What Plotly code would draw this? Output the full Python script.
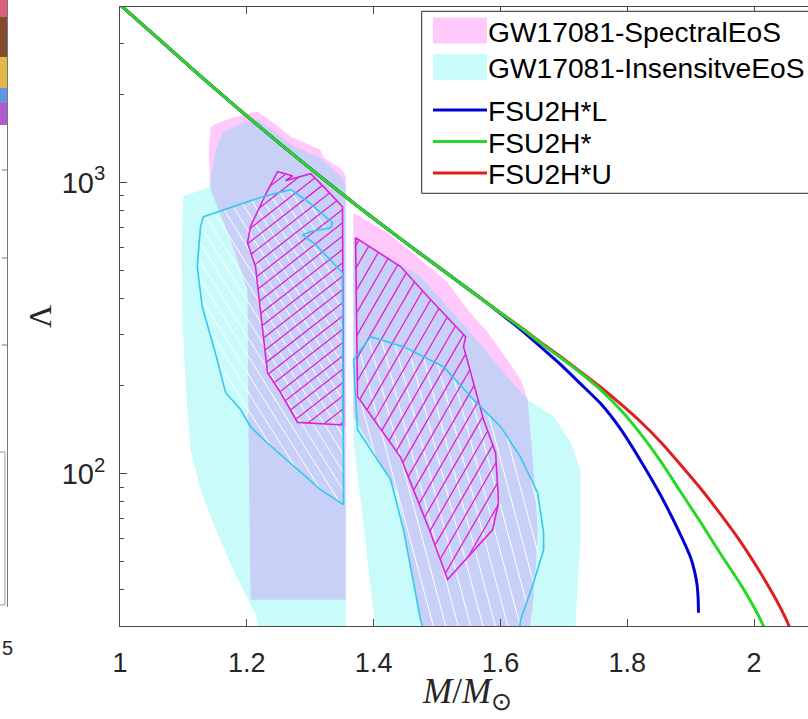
import numpy as np
import plotly.graph_objects as go

# ---------------- axes ----------------
W, H = 808, 719
ML, MR, MT, MB = 120, 0, 7, 93
X_RANGE = [1.0, 2.085]
Y_RANGE = [30.0, 4000.0]
PW, PH = W - ML - MR, H - MT - MB
PX_PER_M = PW / (X_RANGE[1] - X_RANGE[0])
PX_PER_DEC = PH / (np.log10(Y_RANGE[1]) - np.log10(Y_RANGE[0]))

x_ticks = [1.0, 1.2, 1.4, 1.6, 1.8, 2.0]
x_ticktext = ["1", "1.2", "1.4", "1.6", "1.8", "2"]
y_ticks = [100, 1000]
y_ticktext = ["10<sup>2</sup>", "10<sup>3</sup>"]
y_minor = [40, 50, 60, 70, 80, 90, 200, 300, 400, 500, 600, 700, 800, 900, 2000, 3000, 4000]

# ---------------- EoS curves (Lambda vs M) ----------------
fsu2h_m = [1.000, 1.064, 1.127, 1.190, 1.253, 1.316, 1.379, 1.442, 1.506, 1.569, 1.600, 1.632,
           1.663, 1.695, 1.726, 1.758, 1.789, 1.821, 1.853, 1.884, 1.916, 1.947, 1.979, 2.002, 2.015, 2.023]
fsu2h_lam = [4074, 3065, 2315, 1763, 1353, 1046, 815, 641, 505, 400, 356, 317,
             281, 250, 222, 194, 166, 137, 110, 86.7, 67.9, 53.1, 41.6, 34.1, 29.9, 26.9]

fsu2h_l_m = [1.000, 1.064, 1.127, 1.190, 1.253, 1.316, 1.379, 1.442, 1.506, 1.569, 1.600, 1.632,
             1.663, 1.695, 1.726, 1.758, 1.789, 1.821, 1.853, 1.884, 1.900, 1.906, 1.910, 1.9117, 1.9123]
fsu2h_l_lam = [4074, 3065, 2315, 1763, 1353, 1046, 815, 641, 505, 400, 354.8, 312.2,
               272.9, 236.7, 203.7, 174, 142.7, 110.8, 84.0, 61.7, 51.5, 46.3, 41.6, 37.5, 33.3]

fsu2h_u_m = [1.000, 1.064, 1.127, 1.190, 1.253, 1.316, 1.379, 1.442, 1.506, 1.569, 1.600, 1.632,
             1.663, 1.695, 1.726, 1.758, 1.789, 1.821, 1.853, 1.884, 1.916, 1.947, 1.979, 2.010,
             2.034, 2.050, 2.056, 2.061]
fsu2h_u_lam = [4074, 3065, 2315, 1763, 1353, 1046, 815, 641, 505, 400, 357, 318,
               282.8, 252, 224, 198, 174, 150.8, 128.3, 107.4, 88.8, 72.6, 58.2, 45.7,
               37.2, 31.8, 29.6, 26.9]

# ---------------- GW170817 credible regions ----------------
# Spectral EoS, 90% (lighter star m2 and heavier star m1)
spec90_m2_m = [1.143, 1.148, 1.177, 1.217, 1.242, 1.269, 1.316, 1.321, 1.351, 1.356, 1.356, 1.206, 1.203, 1.201, 1.174, 1.143, 1.140]
spec90_m2_lam = [1541, 1578, 1668, 1749, 1603, 1436, 1295, 1215, 1106, 1046, 36.9, 36.9, 121, 428, 636, 944, 1295]
spec90_m1_m = [1.368, 1.422, 1.474, 1.517, 1.548, 1.580, 1.611, 1.632, 1.643, 1.652, 1.659, 1.652, 1.644, 1.482, 1.474, 1.438, 1.368]
spec90_m1_lam = [787, 672, 543, 453, 366, 305, 246, 210, 179.5, 105.7, 62.7, 36.9, 26.9, 26.9, 31.5, 86, 157]

# EoS-insensitive, 90%
ins90_m2_m = [1.356, 1.351, 1.316, 1.269, 1.242, 1.217, 1.190, 1.162, 1.151, 1.140, 1.100, 1.097, 1.099, 1.105, 1.111, 1.127, 1.151, 1.182, 1.214, 1.225, 1.356]
ins90_m2_lam = [982, 1038, 1215, 1347, 1505, 1641, 1591, 1493, 1295, 959, 900, 587, 312, 179.5, 121, 88.1, 64.2, 45, 32.8, 26.9, 26.9]
ins90_m1_m = [1.368, 1.474, 1.553, 1.611, 1.643, 1.684, 1.711, 1.726, 1.726, 1.720, 1.717, 1.405, 1.398, 1.383, 1.368]
ins90_m1_lam = [651, 475, 305, 215, 179.5, 157, 128, 103, 59.3, 36.9, 26.9, 26.9, 36.9, 69.5, 131]

# Spectral EoS, 50%
spec50_m2_m = [1.2295, 1.2484, 1.2721, 1.261, 1.3005, 1.321, 1.3509, 1.3525, 1.280, 1.2532, 1.2326, 1.2216, 1.2137, 1.2011, 1.2058]
spec50_m2_lam = [907, 1088, 1054, 1013, 1071, 967, 825, 147, 150, 190, 222, 357, 514, 621, 705]
spec50_m1_m = [1.3715, 1.4424, 1.4897, 1.545, 1.5418, 1.5734, 1.5923, 1.597, 1.5875, 1.5166, 1.4897, 1.4424, 1.3746]
spec50_m1_lam = [646, 514, 396, 295, 273, 153, 118, 79.5, 64.2, 43.3, 62.7, 114, 184]

# EoS-insensitive, 50%
ins50_m2_m = [1.1317, 1.2248, 1.2689, 1.2926, 1.3352, 1.332, 1.3005, 1.2879, 1.3084, 1.3509, 1.3525, 1.3162, 1.2263, 1.2058, 1.1901, 1.1664, 1.1533, 1.1297, 1.1218, 1.127]
ins50_m2_lam = [762, 893, 944, 872, 727, 699, 677, 661, 611, 490, 78.3, 88.1, 131, 145, 166, 190, 246, 374, 514, 705]
ins50_m1_m = [1.3951, 1.4472, 1.5102, 1.5576, 1.6002, 1.6317, 1.6585, 1.668, 1.668, 1.6522, 1.6317, 1.6285, 1.4834, 1.474, 1.4472, 1.4267, 1.3746, 1.3683]
ins50_m1_lam = [295, 273, 233, 179.5, 145, 114, 86, 62.7, 54.8, 42.2, 31.5, 26.9, 26.9, 31.5, 64.2, 95.4, 141.6, 246]

# ---------------- styles ----------------
PINK = "rgba(255,0,240,0.21)"
CYAN = "rgba(0,235,235,0.21)"
MAGENTA = "rgb(224,32,212)"
CYAN_LINE = "rgb(50,200,240)"
BLUE, GREEN, RED = "rgb(0,0,210)", "rgb(40,215,40)", "rgb(225,30,30)"
AXIS_COLOR = "#4a4a4a"
TEXT_COLOR = "#262626"
SANS = "Liberation Sans, Arial, sans-serif"
SERIF = "Liberation Serif, Times New Roman, serif"


def hatch(ms, lams, angle_deg, spacing, phase=0.5):
    """Parallel hatch segments clipped to a polygon; angle and spacing in screen pixels."""
    th = np.radians(angle_deg)
    c, s = np.cos(th), np.sin(th)
    u = (np.asarray(ms, float) - X_RANGE[0]) * PX_PER_M
    v = np.log10(np.asarray(lams, float)) * PX_PER_DEC
    a = u * c + v * s
    b = -u * s + v * c
    n = len(a)
    xs, ys = [], []
    start = (np.floor(b.min() / spacing) + phase) * spacing
    for bb in np.arange(start, b.max(), spacing):
        hits = []
        for i in range(n):
            j = (i + 1) % n
            b1, b2 = b[i], b[j]
            if (b1 <= bb < b2) or (b2 <= bb < b1):
                t = (bb - b1) / (b2 - b1)
                hits.append(a[i] + t * (a[j] - a[i]))
        hits.sort()
        for k in range(0, len(hits) - 1, 2):
            for aa in (hits[k], hits[k + 1]):
                uu = aa * c - bb * s
                vv = aa * s + bb * c
                xs.append(X_RANGE[0] + uu / PX_PER_M)
                ys.append(10 ** (vv / PX_PER_DEC))
            xs.append(None)
            ys.append(None)
    return xs, ys


def closed(xs, ys):
    return list(xs) + [xs[0]], list(ys) + [ys[0]]


fig = go.Figure()

# 90% regions
for mm, ll in [(spec90_m2_m, spec90_m2_lam), (spec90_m1_m, spec90_m1_lam)]:
    fig.add_trace(go.Scatter(x=mm, y=ll, fill="toself", fillcolor=PINK, mode="lines",
                             line=dict(width=0), hoverinfo="skip", showlegend=False))
for mm, ll in [(ins90_m2_m, ins90_m2_lam), (ins90_m1_m, ins90_m1_lam)]:
    fig.add_trace(go.Scatter(x=mm, y=ll, fill="toself", fillcolor=CYAN, mode="lines",
                             line=dict(width=0), hoverinfo="skip", showlegend=False))

# white hatching of the EoS-insensitive 50% regions
for mm, ll, ang, sp in [(ins50_m2_m, ins50_m2_lam, 122, 9.5), (ins50_m1_m, ins50_m1_lam, 105, 12)]:
    hx, hy = hatch(mm, ll, ang, sp)
    fig.add_trace(go.Scatter(x=hx, y=hy, mode="lines", line=dict(color="white", width=1),
                             hoverinfo="skip", showlegend=False))

# magenta hatching of the spectral 50% regions
for mm, ll, ang, sp in [(spec50_m2_m, spec50_m2_lam, 38, 10.5), (spec50_m1_m, spec50_m1_lam, 60, 11.5)]:
    hx, hy = hatch(mm, ll, ang, sp)
    fig.add_trace(go.Scatter(x=hx, y=hy, mode="lines", line=dict(color=MAGENTA, width=1.3),
                             hoverinfo="skip", showlegend=False))

# 50% outlines
for mm, ll in [(spec50_m2_m, spec50_m2_lam), (spec50_m1_m, spec50_m1_lam)]:
    cx, cy = closed(mm, ll)
    fig.add_trace(go.Scatter(x=cx, y=cy, mode="lines", line=dict(color=MAGENTA, width=1.6),
                             hoverinfo="skip", showlegend=False))
for mm, ll in [(ins50_m2_m, ins50_m2_lam), (ins50_m1_m, ins50_m1_lam)]:
    cx, cy = closed(mm, ll)
    fig.add_trace(go.Scatter(x=cx, y=cy, mode="lines", line=dict(color=CYAN_LINE, width=1.6),
                             hoverinfo="skip", showlegend=False))

# EoS curves
for mm, ll, col, name in [(fsu2h_u_m, fsu2h_u_lam, RED, "FSU2H*U"),
                          (fsu2h_l_m, fsu2h_l_lam, BLUE, "FSU2H*L"),
                          (fsu2h_m, fsu2h_lam, GREEN, "FSU2H*")]:
    fig.add_trace(go.Scatter(x=mm, y=ll, mode="lines", name=name,
                             line=dict(color=col, width=3, shape="spline", smoothing=0.6),
                             showlegend=False))


# ---------------- pixel-based paper coordinates ----------------
def px(xp):
    return (xp - ML) / PW


def py(yp):
    return 1 - (yp - MT) / PH


# legend box
shapes = [dict(type="rect", xref="paper", yref="paper", x0=px(421.7), x1=px(840), y0=py(193.3), y1=py(11.3),
               line=dict(color=TEXT_COLOR, width=1), fillcolor="white", layer="above")]
legend_rows = [
    ("GW17081-SpectralEoS", "patch", PINK, 30.5),
    ("GW17081-InsensitveEoS", "patch", CYAN, 67.0),
    ("FSU2H*L", "line", BLUE, 110.0),
    ("FSU2H*", "line", GREEN, 141.5),
    ("FSU2H*U", "line", RED, 173.0),
]
annotations = []
for label, kind, col, yc in legend_rows:
    if kind == "patch":
        shapes.append(dict(type="rect", xref="paper", yref="paper", x0=px(433), x1=px(487),
                           y0=py(yc + 13), y1=py(yc - 13), line=dict(width=0), fillcolor=col, layer="above"))
    else:
        shapes.append(dict(type="line", xref="paper", yref="paper", x0=px(433), x1=px(487),
                           y0=py(yc), y1=py(yc), line=dict(color=col, width=3), layer="above"))
    annotations.append(dict(xref="paper", yref="paper", x=px(486), y=py(yc + 1), text=label, showarrow=False,
                            xanchor="left", yanchor="middle", font=dict(family=SANS, size=28.2, color="black")))

# edge of the neighbouring panel on the left
side_bands = [(0, 17, "rgb(215,95,120)"), (17, 57, "rgb(130,75,45)"), (57, 88, "rgb(225,185,70)"),
              (88, 103, "rgb(95,150,225)"), (103, 125, "rgb(175,90,205)")]
for y0, y1, col in side_bands:
    shapes.append(dict(type="rect", xref="paper", yref="paper", x0=px(0), x1=px(7.5), y0=py(y1), y1=py(y0),
                       line=dict(width=0), fillcolor=col, layer="above"))
shapes.append(dict(type="line", xref="paper", yref="paper", x0=px(7.5), x1=px(7.5), y0=py(607), y1=py(0),
                   line=dict(color="#777777", width=1), layer="above"))
for yt in [170, 258, 345]:
    shapes.append(dict(type="line", xref="paper", yref="paper", x0=px(2), x1=px(7.5), y0=py(yt), y1=py(yt),
                       line=dict(color="#777777", width=1), layer="above"))
shapes.append(dict(type="rect", xref="paper", yref="paper", x0=px(-2), x1=px(5), y0=py(605), y1=py(452),
                   line=dict(color="#999999", width=1), fillcolor="rgba(0,0,0,0)", layer="above"))
annotations.append(dict(xref="paper", yref="paper", x=px(0), y=py(648), text="5", showarrow=False,
                        xanchor="left", yanchor="middle", font=dict(family=SANS, size=20, color=TEXT_COLOR)))

# axis titles
annotations.append(dict(xref="paper", yref="paper", x=px(467), y=py(694),
                        text="<i>M</i>/<i>M</i><sub>⊙</sub>", showarrow=False,
                        xanchor="center", yanchor="middle", font=dict(family=SERIF, size=35, color=TEXT_COLOR)))
annotations.append(dict(xref="paper", yref="paper", x=px(40), y=py(317), text="Λ", textangle=-90,
                        showarrow=False, xanchor="center", yanchor="middle",
                        font=dict(family=SERIF, size=32, color=TEXT_COLOR)))

fig.update_layout(
    width=W, height=H,
    margin=dict(l=ML, r=MR, t=MT, b=MB),
    paper_bgcolor="white", plot_bgcolor="white",
    showlegend=False,
    shapes=shapes, annotations=annotations,
    xaxis=dict(range=X_RANGE, tickvals=x_ticks, ticktext=x_ticktext, ticks="inside", ticklen=7,
               tickcolor=AXIS_COLOR, showline=True, linecolor=AXIS_COLOR, linewidth=1, mirror="ticks",
               showgrid=False, zeroline=False, ticklabelstandoff=13,
               tickfont=dict(family=SANS, size=27, color=TEXT_COLOR)),
    yaxis=dict(type="log", range=[np.log10(Y_RANGE[0]), np.log10(Y_RANGE[1])], tickvals=y_ticks,
               ticktext=y_ticktext, ticks="inside", ticklen=7, tickcolor=AXIS_COLOR, showline=True,
               linecolor=AXIS_COLOR, linewidth=1, mirror=False, showgrid=False, zeroline=False,
               ticklabelstandoff=8, tickfont=dict(family=SANS, size=29, color=TEXT_COLOR),
               minor=dict(tickvals=y_minor, ticks="inside", ticklen=4, tickcolor=AXIS_COLOR, showgrid=False)),
)

fig.write_html("out.html")
